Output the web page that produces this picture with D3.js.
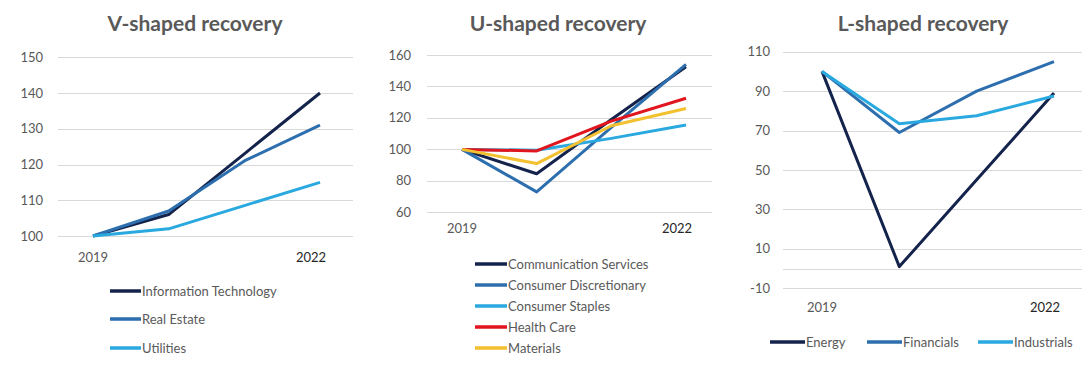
<!DOCTYPE html>
<html>
<head>
<meta charset="utf-8">
<script src="https://cdn.jsdelivr.net/npm/d3@7"></script>
<style>
  body { margin: 0; background: #fff; }
  text { font-family: Lato, "Open Sans", sans-serif; fill: #595959; }
  .title { font-weight: bold; font-size: 21px; }
  .tick-lbl { font-size: 13px; }
  .leg { font-size: 13px; }
</style>
</head>
<body>
<svg width="1086" height="370"></svg>
<script>
var years = ["2019", "2020", "2021", "2022"];
var xLabels = ["2019", "", "", "2022"];

// V-shaped
var vSeries = ["Information Technology", "Real Estate", "Utilities"];
var vIT = [100, 106, 123, 140];
var vRE = [100, 107, 121, 131];
var vUT = [100, 102, 108.5, 115];
var vTicks = [100, 110, 120, 130, 140, 150];

// U-shaped
var uSeries = ["Communication Services", "Consumer Discretionary", "Consumer Staples", "Health Care", "Materials"];
var uCS = [100, 84.5, 119, 152.5];
var uCD = [100, 73, 114, 154];
var uST = [100, 99.5, 107, 115.5];
var uHC = [100, 99, 118, 132.5];
var uMA = [100, 91, 115, 126];
var uTicks = [60, 80, 100, 120, 140, 160];

// L-shaped
var lSeries = ["Energy", "Financials", "Industrials"];
var lEN = [100, 1, 45, 89];
var lFI = [100, 69, 90, 105];
var lIN = [100, 73.5, 77.5, 87.5];
var lTicks = [-10, 10, 30, 50, 70, 90, 110];

var navy = "#14234b", mid = "#2d6fae", light = "#29a9df", red = "#e0151d", gold = "#f3c12f";

var svg = d3.select("svg");

function drawChart(cfg) {
  var g = svg.append("g");

  var x = d3.scalePoint().domain(years).range(cfg.xr);
  var y = d3.scaleLinear().domain(cfg.yd).range(cfg.yr);

  // title
  g.append("text").attr("class", "title")
    .attr("x", cfg.titleX).attr("y", 31)
    .attr("text-anchor", "middle")
    .text(cfg.title);

  // gridlines
  g.selectAll(".grid").data(cfg.grid)
    .enter().append("line")
      .attr("x1", cfg.gx[0]).attr("x2", cfg.gx[1])
      .attr("y1", function(d) { return Math.round(y(d)) + 0.5; })
      .attr("y2", function(d) { return Math.round(y(d)) + 0.5; })
      .attr("stroke", "#d9d9d9").attr("stroke-width", 1);

  // y labels
  g.selectAll(".ylbl").data(cfg.ticks)
    .enter().append("text").attr("class", "tick-lbl")
      .attr("x", cfg.labelX)
      .attr("y", function(d) { return y(d) + 4.5; })
      .attr("text-anchor", "end")
      .text(function(d) { return d; });

  // x labels (only first and last shown)
  g.selectAll(".xlbl").data(years)
    .enter().append("text").attr("class", "tick-lbl")
      .attr("x", function(d, i) { return x(d) - (i == years.length - 1 ? 9 : 0); })
      .attr("y", cfg.xLabelY)
      .attr("text-anchor", "middle")
      .style("fill", function(d, i) { return i == years.length - 1 ? "#262626" : "#595959"; })
      .text(function(d, i) { return xLabels[i]; });

  var line = d3.line()
      .x(function(d, i) { return x(years[i]); })
      .y(function(d) { return y(d); });

  cfg.data.forEach(function(vals, k) {
    g.append("path")
      .datum(vals)
      .attr("d", line)
      .attr("fill", "none")
      .attr("stroke", cfg.colors[k])
      .attr("stroke-width", 3)
      .attr("stroke-linejoin", "round");
  });

  // legend
  cfg.names.forEach(function(name, k) {
    var lx = cfg.legX[k], ly = cfg.legY[k];
    g.append("line")
      .attr("x1", lx).attr("x2", lx + cfg.legLen)
      .attr("y1", ly).attr("y2", ly)
      .attr("stroke", cfg.colors[k]).attr("stroke-width", 3.5);
    g.append("text").attr("class", "leg")
      .attr("x", lx + cfg.legLen + 1).attr("y", ly + 4.5)
      .text(name);
  });
}

drawChart({
  title: "V-shaped recovery", titleX: 195,
  xr: [93, 320], yd: [100, 150], yr: [236, 57.3],
  gx: [58, 353], grid: vTicks, ticks: vTicks, labelX: 43, xLabelY: 262,
  data: [vIT, vRE, vUT], names: vSeries, colors: [navy, mid, light],
  legX: [110, 110, 110], legY: [291, 319, 348], legLen: 31
});

drawChart({
  title: "U-shaped recovery", titleX: 558,
  xr: [462, 686], yd: [60, 160], yr: [212.3, 55],
  gx: [427, 712], grid: uTicks, ticks: uTicks, labelX: 411, xLabelY: 233,
  data: [uCS, uCD, uST, uHC, uMA], names: uSeries, colors: [navy, mid, light, red, gold],
  legX: [475, 475, 475, 475, 475], legY: [264, 285, 306, 327, 348], legLen: 32
});

drawChart({
  title: "L-shaped recovery", titleX: 923,
  xr: [822, 1054], yd: [-10, 110], yr: [288.3, 51.7],
  gx: [783, 1082], grid: lTicks.concat([0]), ticks: lTicks, labelX: 770, xLabelY: 312,
  data: [lEN, lFI, lIN], names: lSeries, colors: [navy, mid, light],
  legX: [770, 867, 978], legY: [342, 342, 342], legLen: 35
});
</script>
</body>
</html>
